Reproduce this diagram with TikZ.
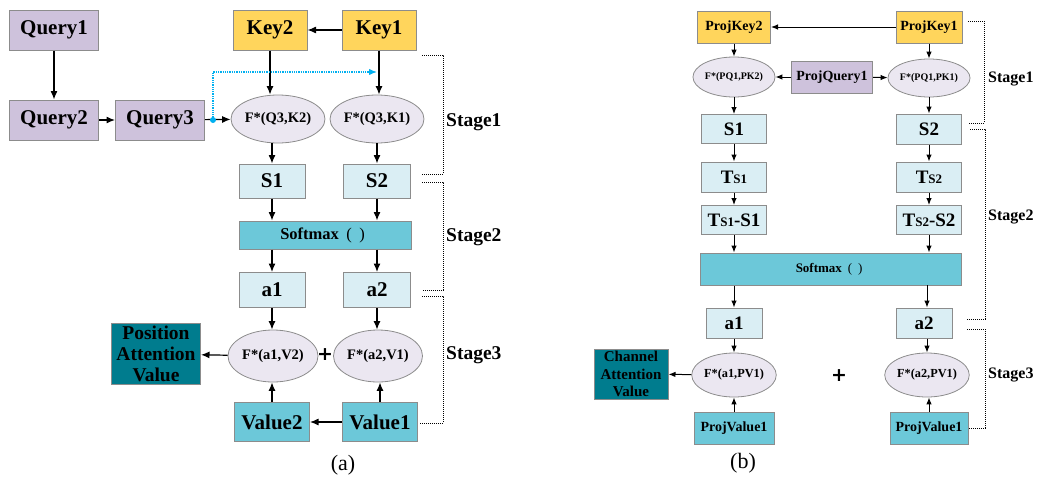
\documentclass[tikz,border=0pt]{standalone}
\usepackage{fontspec}
\setmainfont{Liberation Serif}
\newfontfamily\djv{DejaVu Sans}
\usetikzlibrary{arrows.meta,shapes.geometric}
\definecolor{qpurple}{RGB}{206,194,220}
\definecolor{keyyel}{RGB}{255,213,92}
\definecolor{ellfill}{RGB}{235,231,241}
\definecolor{lblue}{RGB}{218,238,244}
\definecolor{sblue}{RGB}{108,200,217}
\definecolor{dteal}{RGB}{0,124,142}
\definecolor{cyanl}{RGB}{0,176,240}
\definecolor{bgray}{RGB}{140,140,140}
\newcommand{\fs}[1]{\fontsize{#1}{#1}\selectfont}
\newcommand{\fwparens}{\hspace{0.45em}{\mdseries(\hspace{0.45em})}\hspace{0.3em}}
\tikzset{
  box/.style={draw=bgray,line width=1pt,inner sep=0pt,align=center,font=\bfseries},
  qbox/.style={box,fill=qpurple},
  kbox/.style={box,fill=keyyel},
  lbox/.style={box,fill=lblue},
  sbox/.style={box,fill=sblue},
  dbox/.style={box,fill=dteal},
  ell/.style={draw=bgray,line width=0.8pt,ellipse,fill=ellfill,inner sep=0pt,font=\bfseries},
  arr/.style={-{Latex[length=8.5pt,width=7pt]},line width=1.2pt},
  arrb/.style={-{Latex[length=7pt,width=5.5pt]},line width=1pt},
  brk/.style={densely dotted,line width=1pt},
  stg/.style={anchor=west,inner sep=0pt,font=\bfseries},
  plus/.style={inner sep=0pt,font=\djv\bfseries\fs{19}},
}
\begin{document}
\begin{tikzpicture}[x=1pt,y=-1pt]
\useasboundingbox (0,0) rectangle (1037,477);
% ---------------- panel (a)
\node[qbox,minimum width=89pt,minimum height=40pt,font=\bfseries\fs{21}] (Q1) at (54,30) {Query1};
\node[qbox,minimum width=89pt,minimum height=40pt,font=\bfseries\fs{21}] (Q2) at (54,120) {Query2};
\node[qbox,minimum width=89pt,minimum height=40pt,font=\bfseries\fs{21}] (Q3) at (160,120) {Query3};
\node[kbox,minimum width=74pt,minimum height=40pt,font=\bfseries\fs{21}] (K2) at (270,30) {Key2};
\node[kbox,minimum width=74pt,minimum height=40pt,font=\bfseries\fs{21}] (K1) at (379,30) {Key1};
\node[ell,minimum width=90pt,minimum height=48pt,font=\bfseries\fs{14.5}] (E1) at (278,119) {F*(Q3,K2)};
\node[ell,minimum width=91pt,minimum height=48pt,font=\bfseries\fs{14.5}] (E2) at (377,119) {F*(Q3,K1)};
\node[lbox,minimum width=66pt,minimum height=34pt,font=\bfseries\fs{21}] (S1a) at (272,181) {S1};
\node[lbox,minimum width=67pt,minimum height=34pt,font=\bfseries\fs{21}] (S2a) at (377,181) {S2};
\node[sbox,minimum width=172pt,minimum height=28pt,font=\bfseries\fs{16.5}] (SMa) at (325,235) {Softmax\fwparens};
\node[lbox,minimum width=66pt,minimum height=35pt,font=\bfseries\fs{21}] (A1a) at (272,290) {a1};
\node[lbox,minimum width=67pt,minimum height=35pt,font=\bfseries\fs{21}] (A2a) at (377,290) {a2};
\node[ell,minimum width=90pt,minimum height=52pt,font=\bfseries\fs{14.5}] (E3) at (273,356) {F*(a1,V2)};
\node[ell,minimum width=89pt,minimum height=52pt,font=\bfseries\fs{14.5}] (E4) at (378,356) {F*(a2,V1)};
\node[plus] (PLa) at (325,355) {+};
\node[dbox,minimum width=89pt,minimum height=61pt,font=\bfseries\fontsize{19.5}{21}\selectfont] (PAV) at (156,354) {Position\\Attention\\Value};
\node[sbox,minimum width=75pt,minimum height=39pt,font=\bfseries\fs{21}] (V2) at (272,422) {Value2};
\node[sbox,minimum width=75pt,minimum height=39pt,font=\bfseries\fs{21}] (V1) at (380,422) {Value1};
\node[inner sep=0pt,font=\fs{22}] (LA) at (343,465) {(a)};
% arrows (a)
\draw[arr] (Q1) -- (Q2);
\draw[arr] (Q2) -- (Q3);
\coordinate (qd) at (213,120);
\draw[arr] (Q3) -- (E1);
\draw[arr] (K1) -- (K2);
\draw[arr] (K2.south) -- (K2.south |- E1.north);
\draw[arr] (K1.south) -- (K1.south |- E2.north);
\draw[arr] (S1a.north |- E1.south) -- (S1a);
\draw[arr] (E2.south) -- (S2a);
\draw[arr] (S1a) -- (S1a |- SMa.north);
\draw[arr] (S2a) -- (S2a |- SMa.north);
\draw[arr] (A1a |- SMa.south) -- (A1a);
\draw[arr] (A2a |- SMa.south) -- (A2a);
\draw[arr] (A1a) -- (A1a |- E3.north);
\draw[arr] (A2a) -- (A2a |- E4.north);
\draw[arr] (E3) -- (PAV);
\draw[arr] (V2) -- (V2 |- E3.south);
\draw[arr] (V1) -- (V1 |- E4.south);
\draw[arr] (V1) -- (V2);
\coordinate (cy) at (377,72);
\draw[cyanl,line width=1.3pt,densely dotted,-{Latex[length=8pt,width=6.5pt]}] (qd) |- (cy);
\fill[cyanl] (qd) circle (3pt);
% brackets (a)
\draw[brk] (422,55) -| (443,174) -- (422,174);
\draw[brk] (422,182) -| (443,290) -- (422,290);
\draw[brk] (422,296) -| (443,423) -- (420,423);
\node[stg,font=\bfseries\fs{19.5}] (St1a) at (446,122) {Stage1};
\node[stg,font=\bfseries\fs{19.5}] (St2a) at (446,237) {Stage2};
\node[stg,font=\bfseries\fs{19.5}] (St3a) at (446,355) {Stage3};
% ---------------- panel (b)
\node[kbox,minimum width=73pt,minimum height=32pt,font=\bfseries\fs{14}] (PK2) at (734,27) {ProjKey2};
\node[kbox,minimum width=66pt,minimum height=32pt,font=\bfseries\fs{14}] (PK1) at (929,27) {ProjKey1};
\node[ell,minimum width=81pt,minimum height=40pt,font=\bfseries\fs{10}] (E5) at (734,77) {F*(PQ1,PK2)};
\node[qbox,minimum width=81pt,minimum height=32pt,font=\bfseries\fs{14}] (PQ) at (832,77) {ProjQuery1};
\node[ell,minimum width=80pt,minimum height=38pt,font=\bfseries\fs{10}] (E6) at (929,78) {F*(PQ1,PK1)};
\node[lbox,minimum width=65pt,minimum height=29pt,font=\bfseries\fs{19}] (S1b) at (734,129) {S1};
\node[lbox,minimum width=65pt,minimum height=30pt,font=\bfseries\fs{19}] (S2b) at (929,129) {S2};
\node[lbox,minimum width=65pt,minimum height=30pt,font=\bfseries\fs{19}] (T1) at (734,177) {T{\fs{13}S1}};
\node[lbox,minimum width=65pt,minimum height=30pt,font=\bfseries\fs{19}] (T2) at (929,177) {T{\fs{13}S2}};
\node[lbox,minimum width=65pt,minimum height=29pt,font=\bfseries\fs{19}] (TS1) at (734,220) {T{\fs{13}S1}-S1};
\node[lbox,minimum width=65pt,minimum height=29pt,font=\bfseries\fs{19}] (TS2) at (929,220) {T{\fs{13}S2}-S2};
\node[sbox,minimum width=261pt,minimum height=32pt,font=\bfseries\fs{13}] (SMb) at (831,269) {Softmax\fwparens};
\node[lbox,minimum width=56pt,minimum height=30pt,font=\bfseries\fs{19}] (A1b) at (734,323) {a1};
\node[lbox,minimum width=56pt,minimum height=30pt,font=\bfseries\fs{19}] (A2b) at (924,323) {a2};
\node[ell,minimum width=80pt,minimum height=44pt,font=\bfseries\fs{12.3}] (E7) at (734,375) {F*(a1,PV1)};
\node[ell,minimum width=80pt,minimum height=44pt,font=\bfseries\fs{12.3}] (E8) at (927,375) {F*(a2,PV1)};
\node[plus] (PLb) at (839,376) {+};
\node[dbox,minimum width=74pt,minimum height=50pt,font=\bfseries\fontsize{15}{17.5}\selectfont] (CAV) at (631,374) {Channel\\Attention\\Value};
\node[sbox,minimum width=80pt,minimum height=32pt,font=\bfseries\fs{14}] (PV1) at (734,428) {ProjValue1};
\node[sbox,minimum width=78pt,minimum height=32pt,font=\bfseries\fs{14}] (PV2) at (929,428) {ProjValue1};
\node[inner sep=0pt,font=\fs{22}] (LB) at (743,463) {(b)};
% arrows (b)
\draw[arrb] (PK1) -- (PK2);
\draw[arrb] (PK2) -- (E5);
\draw[arrb] (PK1) -- (E6);
\draw[arrb] (PQ) -- (E5);
\draw[arrb] (PQ) -- (E6);
\draw[arrb] (E5) -- (S1b);
\draw[arrb] (E6) -- (S2b);
\draw[arrb] (S1b) -- (T1);
\draw[arrb] (S2b) -- (T2);
\draw[arrb] (T1) -- (TS1);
\draw[arrb] (T2) -- (TS2);
\draw[arrb] (TS1) -- (TS1 |- SMb.north);
\draw[arrb] (TS2) -- (TS2 |- SMb.north);
\draw[arrb] (A1b |- SMb.south) -- (A1b);
\coordinate (smr) at (927,285);
\draw[arrb] (smr) -- (smr |- A2b.north);
\draw[arrb] (A1b) -- (E7);
\draw[arrb] (A2b.south -| E8) -- (E8);
\draw[arrb] (E7) -- (CAV);
\draw[arrb] (PV1) -- (E7);
\draw[arrb] (PV2) -- (PV2 |- E8.south);
% brackets (b)
\draw[brk] (968,21) -| (984,123) -- (968,123);
\draw[brk] (970,129) -| (985,319) -- (967,319);
\draw[brk] (967,329) -| (985,428) -- (968,428);
\node[stg,font=\bfseries\fs{16}] (St1b) at (988,79) {Stage1};
\node[stg,font=\bfseries\fs{16}] (St2b) at (988,217) {Stage2};
\node[stg,font=\bfseries\fs{16}] (St3b) at (988,375) {Stage3};
\end{tikzpicture}
\end{document}
